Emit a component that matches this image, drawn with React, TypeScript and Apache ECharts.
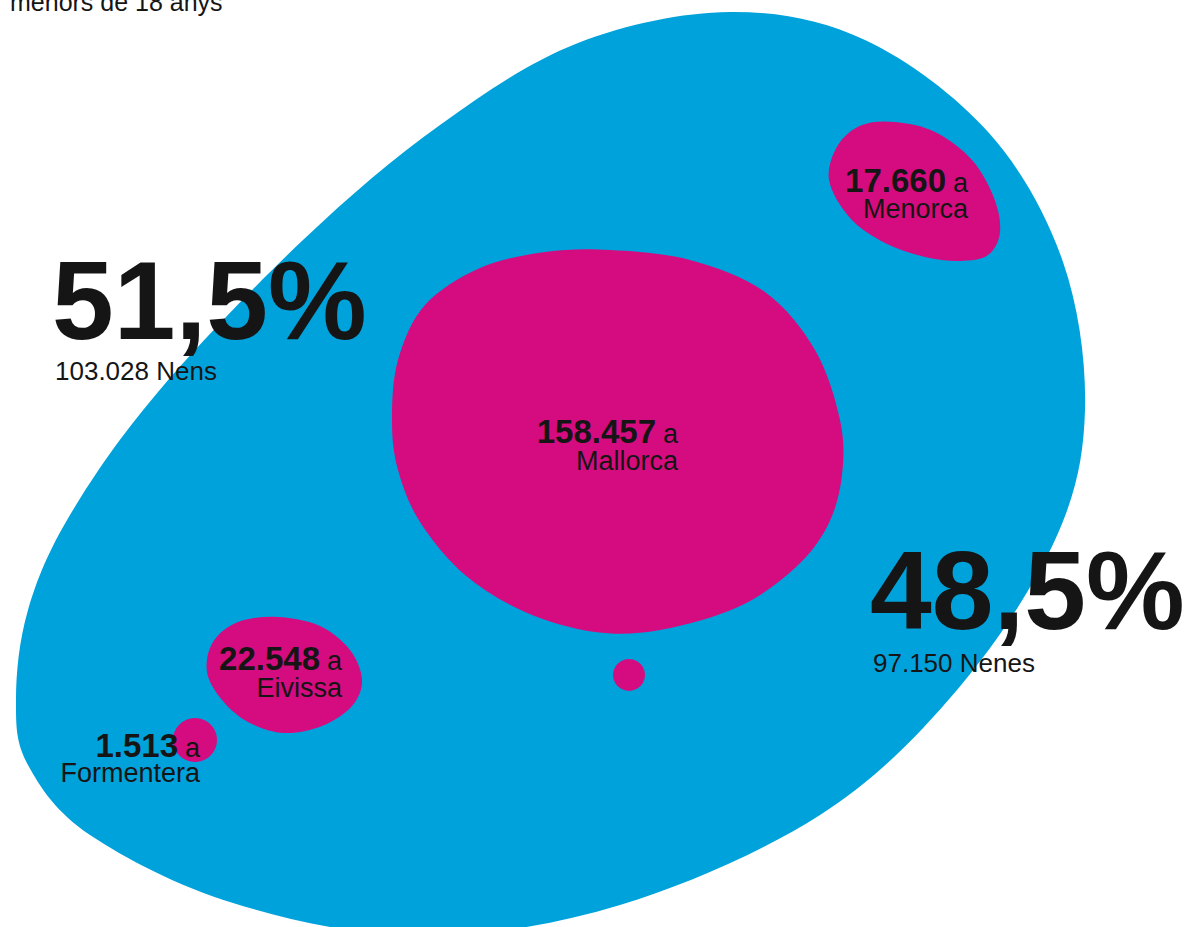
import React, { useEffect, useRef } from "react";
import * as echarts from "echarts";

// ---- data ----
const title = "menors de 18 anys";
const islands = ["Mallorca", "Menorca", "Eivissa", "Formentera"];
const childCounts = [158457, 17660, 22548, 1513];
const genderLabels = ["Nens", "Nenes"];
const genderCounts = [103028, 97150];
const genderShares = [51.5, 48.5];

// ---- layout / style ----
const W = 1192;
const H = 927;
const BLUE = "#00a2db";
const MAGENTA = "#d50c7f";
const INK = "#151515";
const FONT = "'Liberation Sans', Arial, Helvetica, sans-serif";

const totalOutline = [
  [16, 700], [28, 610], [70, 515], [158, 392], [303, 240], [440, 125], [578, 43],
  [730, 12], [865, 40], [989, 133], [1063, 262], [1085, 410], [1055, 540],
  [957, 690], [820, 815], [620, 905], [420, 936], [233, 903], [90, 835], [28, 765],
];

const islandOutlines: number[][][] = [
  [
    [392, 420], [398, 360], [425, 305], [480, 268], [545, 252], [610, 250], [690, 260],
    [765, 292], [815, 350], [840, 420], [842, 475], [828, 525], [795, 568], [738, 607],
    [660, 630], [595, 632], [525, 612], [465, 575], [420, 522], [398, 470],
  ],
  [
    [829, 180], [838, 145], [862, 125], [895, 122], [935, 132], [972, 160], [994, 198],
    [1000, 232], [988, 255], [960, 261], [925, 257], [885, 243], [850, 218],
  ],
  [
    [207, 672], [213, 642], [238, 622], [278, 617], [320, 626], [350, 650], [362, 680],
    [352, 706], [322, 726], [284, 733], [248, 722], [222, 700],
  ],
];
const circles: Record<number, number[]> = { 3: [195, 740, 22] };
const extraDot = [629, 675, 16];

// label anchors: [right x, baseline line1, baseline line2]
const labelAnchors = [
  [678, 443, 470],
  [968, 192, 218],
  [342, 670, 697],
  [200, 757, 782],
];
const shareAnchors = [
  [55, 340, 380],
  [873, 630, 672],
];

function fmt(n: number) {
  return String(n).replace(/\B(?=(\d{3})+(?!\d))/g, ".");
}
function pct(v: number) {
  return v.toFixed(1).replace(".", ",") + "%";
}

function closedSmooth(pts: number[][]) {
  const n = pts.length;
  const f = (p: number[]) => `${p[0].toFixed(2)},${p[1].toFixed(2)}`;
  let d = `M${f(pts[0])}`;
  for (let i = 0; i < n; i++) {
    const p0 = pts[(i - 1 + n) % n];
    const p1 = pts[i];
    const p2 = pts[(i + 1) % n];
    const p3 = pts[(i + 2) % n];
    const c1 = [p1[0] + (p2[0] - p0[0]) / 6, p1[1] + (p2[1] - p0[1]) / 6];
    const c2 = [p2[0] - (p3[0] - p1[0]) / 6, p2[1] - (p3[1] - p1[1]) / 6];
    d += `C${f(c1)} ${f(c2)} ${f(p2)}`;
  }
  return d + "Z";
}

function txt(text: string, x: number, baseline: number, size: number, bold: boolean, align: string) {
  return {
    type: "text",
    x,
    y: baseline - 0.35 * size,
    z: 100,
    silent: true,
    style: {
      text,
      font: `${bold ? "bold " : ""}${size}px ${FONT}`,
      fill: INK,
      align,
      textAlign: align,
      verticalAlign: "middle",
      textVerticalAlign: "middle",
      lineHeight: Math.round(size * 0.8),
    },
  };
}

export default function App() {
  const ref = useRef<HTMLDivElement>(null);
  useEffect(() => {
    if (!ref.current) return;
    const chart = echarts.init(ref.current, null, { renderer: "svg" });

    const graphics: any[] = [];
    graphics.push(txt(title, 10, 11, 25, false, "left"));
    genderShares.forEach((s, i) => {
      const [x, b1, b2] = shareAnchors[i];
      graphics.push(txt(pct(s), x - 3, b1, 111, true, "left"));
      graphics.push(txt(`${fmt(genderCounts[i])} ${genderLabels[i]}`, x, b2, 26, false, "left"));
    });
    islands.forEach((name, i) => {
      const [rx, b1, b2] = labelAnchors[i];
      graphics.push(txt(fmt(childCounts[i]), rx - 22, b1, 33, true, "right"));
      graphics.push(txt("a", rx, b1, 27, false, "right"));
      graphics.push(txt(name, rx, b2, 27, false, "right"));
    });

    const toPath = (api: any, pts: number[][]) =>
      closedSmooth(pts.map((p) => api.coord(p)));

    chart.setOption({
      animation: false,
      grid: { left: 0, right: 0, top: 0, bottom: 0 },
      xAxis: { type: "value", min: 0, max: W, show: false },
      yAxis: { type: "value", min: 0, max: H, inverse: true, show: false },
      series: [
        {
          type: "custom",
          name: "total",
          silent: true,
          clip: false,
          data: [[genderCounts[0] + genderCounts[1]]],
          renderItem: (_p: any, api: any) => ({
            type: "path",
            shape: { pathData: toPath(api, totalOutline) },
            style: { fill: BLUE },
          }),
        },
        {
          type: "custom",
          name: "illes",
          silent: true,
          data: islands
            .map((n, i) => ({ name: n, value: [i, childCounts[i]] }))
            .concat([{ name: "", value: [-1, 0] }]),
          renderItem: (_p: any, api: any) => {
            const idx = api.value(0);
            if (idx === -1) {
              const c = api.coord([extraDot[0], extraDot[1]]);
              return { type: "circle", shape: { cx: c[0], cy: c[1], r: extraDot[2] }, style: { fill: MAGENTA } };
            }
            if (circles[idx]) {
              const cc = circles[idx];
              const c = api.coord([cc[0], cc[1]]);
              return { type: "circle", shape: { cx: c[0], cy: c[1], r: cc[2] }, style: { fill: MAGENTA } };
            }
            return {
              type: "path",
              shape: { pathData: toPath(api, islandOutlines[idx]) },
              style: { fill: MAGENTA },
            };
          },
        },
      ],
      graphic: graphics,
    });
    return () => chart.dispose();
  }, []);
  return (
    <div
      ref={ref}
      style={{ position: "absolute", left: 0, top: 0, width: W, height: H, background: "#fff" }}
    />
  );
}
